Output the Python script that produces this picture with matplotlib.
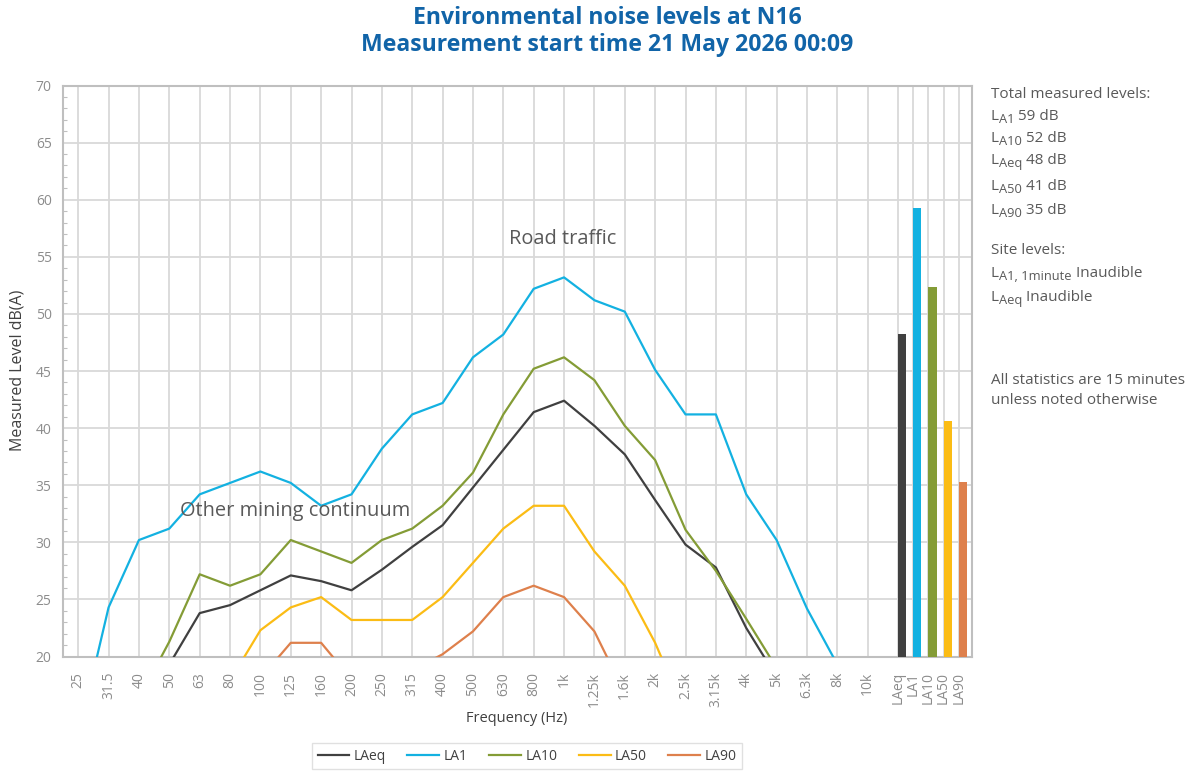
import numpy as np
import matplotlib
matplotlib.use("Agg")
import matplotlib.pyplot as plt
from matplotlib.ticker import MultipleLocator

nan = np.nan
freq_labels = ["25", "31.5", "40", "50", "63", "80", "100", "125", "160", "200",
               "250", "315", "400", "500", "630", "800", "1k", "1.25k", "1.6k",
               "2k", "2.5k", "3.15k", "4k", "5k", "6.3k", "8k", "10k"]
laeq = [nan, nan, nan, 19.3, 23.8, 24.5, 25.8, 27.1, 26.6, 25.8, 27.6, 29.6, 31.5,
        34.8, 38.1, 41.4, 42.4, 40.2, 37.7, 33.7, 29.8, 27.8, 22.5, 18.2, nan, nan, nan]
la1 = [13.0, 24.3, 30.2, 31.2, 34.2, 35.2, 36.2, 35.2, 33.2, 34.2, 38.2, 41.2, 42.2,
       46.2, 48.2, 52.2, 53.2, 51.2, 50.2, 45.1, 41.2, 41.2, 34.2, 30.2, 24.2, 19.3, nan]
la10 = [nan, nan, 16.3, 21.3, 27.2, 26.2, 27.2, 30.2, 29.2, 28.2, 30.2, 31.2, 33.2,
        36.1, 41.2, 45.2, 46.2, 44.2, 40.2, 37.2, 31.1, 27.5, 23.3, 19.0, nan, nan, nan]
la50 = [nan, nan, nan, nan, nan, 17.9, 22.3, 24.3, 25.2, 23.2, 23.2, 23.2, 25.2,
        28.2, 31.2, 33.2, 33.2, 29.2, 26.2, 21.2, 15.0, nan, nan, nan, nan, nan, nan]
la90 = [nan, nan, nan, nan, nan, nan, 18.1, 21.2, 21.2, 18.0, 18.0, 18.8, 20.2,
        22.2, 25.2, 26.2, 25.2, 22.2, 16.8, nan, nan, nan, nan, nan, nan, nan, nan]

bar_labels = ["LAeq", "LA1", "LA10", "LA50", "LA90"]
bar_values = [48.2, 59.3, 52.4, 40.6, 35.3]

series_names = ["LAeq", "LA1", "LA10", "LA50", "LA90"]
series_values = [laeq, la1, la10, la50, la90]
colors = ["#404040", "#13B1E1", "#849C36", "#FBBC15", "#DE804C"]

plt.rcParams['font.family'] = ['Open Sans', 'DejaVu Sans']

W, H = 1195, 772
fig = plt.figure(figsize=(W / 100, H / 100), dpi=100)
ax = fig.add_axes([0.0525, 0.1496, 0.813 - 0.0525, 0.8892 - 0.1496])

x = np.arange(len(freq_labels))
handles = []
for name, vals, c in zip(series_names, series_values, colors):
    h, = ax.plot(x, vals, color=c, lw=1.6, label=name, zorder=3)
    handles.append(h)

bar_x = len(freq_labels) + 0.5 * np.arange(len(bar_labels))
ax.bar(bar_x, bar_values, width=0.27, align='edge', color=colors, zorder=3)

ax.set_xlim(-0.51, 29.42)
ax.set_ylim(20, 70)
ax.set_xticks(list(x) + list(bar_x))
ax.set_xticklabels(freq_labels + bar_labels, rotation=90, color="#8C8C8C", fontsize=10)
ax.yaxis.set_major_locator(MultipleLocator(5))
ax.yaxis.set_minor_locator(MultipleLocator(1))
ax.tick_params(axis='y', which='major', length=0, labelsize=10, labelcolor="#8C8C8C", pad=8)
ax.tick_params(axis='y', which='minor', direction='in', length=3, color="#BFBFBF", width=0.8)
ax.tick_params(axis='x', length=0, pad=11)
ax.grid(True, which='major', color="#D9D9D9", lw=1.3, zorder=0)
ax.set_axisbelow(True)
for s in ax.spines.values():
    s.set_color("#BFBFBF")
    s.set_linewidth(1.5)

ax.text(15.97, 56.6, "Road traffic", fontsize=14.4, color="#595959", ha='center', va='center')
ax.text(7.14, 32.7, "Other mining continuum", fontsize=14.4, color="#595959", ha='center', va='center')

fig.text(607 / W, 1 - 18 / H, "Environmental noise levels at N16", ha='center', va='center',
         fontsize=16.6, fontweight='bold', color="#1164A8")
fig.text(607 / W, 1 - 45 / H, "Measurement start time 21 May 2026 00:09", ha='center', va='center',
         fontsize=16.6, fontweight='bold', color="#1164A8")

fig.text(0.015, 0.52, "Measured Level dB(A)", rotation=90, ha='center', va='center',
         fontsize=11.5, color="#404040")
fig.text(517 / W, 1 - 718 / H, "Frequency (Hz)", ha='center', va='center',
         fontsize=10.5, color="#404040")

renderer = fig.canvas.get_renderer()
tc = "#595959"
main_size = 11
sub_size = 9.3


def rich(xpx, ybase, parts):
    cur = xpx
    for t, is_sub in parts:
        size = sub_size if is_sub else main_size
        dy = 3 if is_sub else 0
        txt = fig.text(cur / W, 1 - (ybase + dy) / H, t, ha='left', va='baseline',
                       fontsize=size, color=tc)
        bb = txt.get_window_extent(renderer)
        cur += bb.width


tx = 991
right_lines = [
    (98, [("Total measured levels:", False)]),
    (120, [("L", False), ("A1", True), (" 59 dB", False)]),
    (142, [("L", False), ("A10", True), (" 52 dB", False)]),
    (164, [("L", False), ("Aeq", True), (" 48 dB", False)]),
    (190, [("L", False), ("A50", True), (" 41 dB", False)]),
    (214, [("L", False), ("A90", True), (" 35 dB", False)]),
    (254, [("Site levels:", False)]),
    (277, [("L", False), ("A1, 1minute", True), (" Inaudible", False)]),
    (301, [("L", False), ("Aeq", True), (" Inaudible", False)]),
    (384, [("All statistics are 15 minutes", False)]),
    (404, [("unless noted otherwise", False)]),
]
for yb, parts in right_lines:
    rich(tx, yb, parts)

leg = fig.legend(handles=handles, loc='center', bbox_to_anchor=(527 / W, 1 - 756 / H),
                 ncol=5, frameon=True, fontsize=10, handlelength=2.3, columnspacing=1.55,
                 handletextpad=0.3, borderpad=0.4, fancybox=False)
leg.get_frame().set_edgecolor("#D9D9D9")
for t in leg.get_texts():
    t.set_color("#404040")

fig.savefig("out.png", dpi=100)
